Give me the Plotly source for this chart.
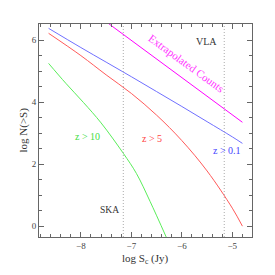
import plotly.graph_objects as go

# Data (log S in Jy, log N(>S))
logS_blue = [-8.64, -8.0, -7.5, -7.0, -6.5, -6.0, -5.5, -5.0, -4.8]
logN_blue = [6.38, 5.76, 5.29, 4.82, 4.34, 3.86, 3.37, 2.88, 2.67]

logS_red = [-8.64, -8.0, -7.5, -7.0, -6.5, -6.0, -5.5, -5.0, -4.8]
logN_red = [6.22, 5.50, 4.88, 4.28, 3.58, 2.76, 1.78, 0.58, 0.0]

logS_green = [-8.64, -8.30, -7.95, -7.60, -7.16, -6.90, -6.63, -6.31]
logN_green = [5.25, 4.61, 3.99, 3.33, 2.35, 1.70, 0.80, -0.35]

logS_extrap = [-8.64, -4.8]
logN_extrap = [7.96, 3.35]

SKA_LIMIT = -7.16
VLA_LIMIT = -5.16

x_ticks = [-8, -7, -6, -5]
y_ticks = [0, 2, 4, 6]

FONT = "Liberation Serif"
SP = "\u00a0"

fig = go.Figure()
fig.add_trace(go.Scatter(x=logS_blue, y=logN_blue, mode="lines",
                         line=dict(color="#7070ff", width=1), line_shape="spline"))
fig.add_trace(go.Scatter(x=logS_red, y=logN_red, mode="lines",
                         line=dict(color="#ff5a5a", width=1), line_shape="spline"))
fig.add_trace(go.Scatter(x=logS_green, y=logN_green, mode="lines",
                         line=dict(color="#5aee5a", width=1), line_shape="spline"))
fig.add_trace(go.Scatter(x=logS_extrap, y=logN_extrap, mode="lines",
                         line=dict(color="#ff00ff", width=1)))

for xv in [SKA_LIMIT, VLA_LIMIT]:
    fig.add_shape(type="line", xref="x", yref="paper", x0=xv, x1=xv, y0=0, y1=1,
                  line=dict(color="#aaaaaa", width=1, dash="1px,2px"))

anns = [
    dict(x=-5.92, y=5.25, text="Extrapolated Counts", color="#ff33ff", size=11, angle=36),
    dict(x=-5.51, y=5.95, text="VLA", color="#333333", size=10, angle=0),
    dict(x=-5.10, y=2.45, text=f"z{SP}&gt;{SP}0.1", color="#4444ff", size=10, angle=0),
    dict(x=-6.59, y=2.84, text=f"z{SP}&gt;{SP}5", color="#ff4444", size=10, angle=0),
    dict(x=-7.86, y=2.90, text=f"z{SP}&gt;{SP}10", color="#44dd44", size=10, angle=0),
    dict(x=-7.44, y=0.53, text="SKA", color="#333333", size=9.5, angle=0),
]
for a in anns:
    fig.add_annotation(x=a["x"], y=a["y"], xref="x", yref="y", text=a["text"],
                       showarrow=False, textangle=a["angle"],
                       font=dict(family=FONT, size=a["size"], color=a["color"]))

fig.add_annotation(x=0.5, y=-0.105, xref="paper", yref="paper", yanchor="middle",
                   text="log S<sub>c</sub> (Jy)", showarrow=False,
                   font=dict(family=FONT, size=11, color="#333333"))
fig.add_annotation(x=-0.075, y=0.5, xref="paper", yref="paper", xanchor="center",
                   yanchor="middle", text="log N(&gt;S)", showarrow=False, textangle=-90,
                   font=dict(family=FONT, size=11, color="#333333"))

axis_common = dict(showgrid=False, zeroline=False, showline=True, linecolor="#666666",
                   linewidth=1, mirror="ticks", ticks="inside", ticklen=5,
                   tickcolor="#666666", tickfont=dict(family=FONT, size=9, color="#444444"))

fig.update_xaxes(range=[-8.83, -4.61], tickvals=x_ticks,
                 ticktext=["\u22128", "\u22127", "\u22126", "\u22125"],
                 minor=dict(dtick=0.2, ticks="inside", ticklen=3, tickcolor="#666666"),
                 **axis_common)
fig.update_yaxes(range=[-0.35, 6.52], tickvals=y_ticks,
                 minor=dict(dtick=0.5, ticks="inside", ticklen=3, tickcolor="#666666"),
                 **axis_common)

# page body adds an 8px offset; compensate so the plot area lands where the reference's does
fig.update_layout(width=267, height=267, margin=dict(l=31, r=23, t=16, b=38),
                  paper_bgcolor="white", plot_bgcolor="white", showlegend=False)

fig.write_html("out.html")
